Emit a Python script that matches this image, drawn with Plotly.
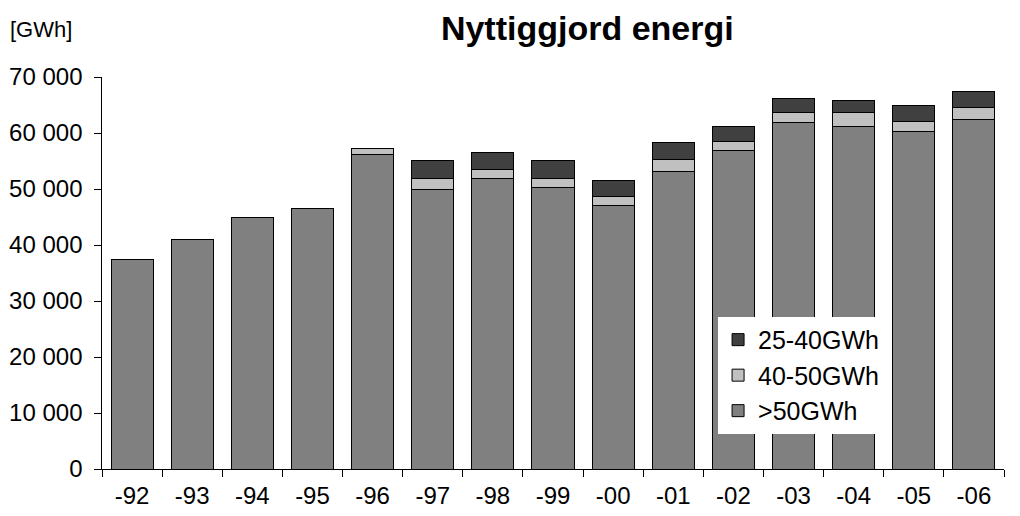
import plotly.graph_objects as go

years = ["-92", "-93", "-94", "-95", "-96", "-97", "-98", "-99", "-00",
         "-01", "-02", "-03", "-04", "-05", "-06"]

# GWh per storleksklass
over_50 = [37500, 40900, 45000, 46600, 56100, 50000, 51900, 50350, 47000,
           53200, 56850, 61900, 61250, 60350, 62500]
mid_40_50 = [None, None, None, None, 1200, 1800, 1550, 1550, 1750,
             2000, 1600, 1800, 2350, 1650, 2100]
low_25_40 = [None, None, None, None, None, 3250, 3050, 3150, 2750,
             3100, 2650, 2550, 2200, 2900, 2800]

FONT = "Liberation Sans, Arial, sans-serif"

fig = go.Figure()

# Staplar, underst först
for name, vals, color in [(">50GWh", over_50, "#808080"),
                          ("40-50GWh", mid_40_50, "#C0C0C0"),
                          ("25-40GWh", low_25_40, "#404040")]:
    fig.add_trace(go.Bar(
        x=years, y=vals, name=name,
        marker=dict(color=color, line=dict(color="black", width=1)),
    ))

# sidan har 8px marginal runt figuren -> 1004x500
fig.update_layout(
    barmode="stack",
    bargap=0.3,
    width=1004, height=500,
    margin=dict(l=94, r=8, t=69, b=39),
    plot_bgcolor="white", paper_bgcolor="white",
    separators=", ",
    font=dict(family=FONT, size=24, color="black"),
    title=dict(text="<b>Nyttiggjord energi</b>", x=0.577, xanchor="center",
               y=0.96, yanchor="middle", font=dict(size=34)),
    legend=dict(x=0.683, y=0.388, xanchor="left", yanchor="top",
                traceorder="reversed", bgcolor="white",
                font=dict(size=25), tracegroupgap=0),
)

fig.update_yaxes(range=[0, 70000], dtick=10000, tickformat=",d",
                 ticksuffix=" ", automargin=False,
                 showgrid=False, zeroline=False, showline=True,
                 linecolor="black", linewidth=1,
                 ticks="outside", ticklen=7, tickcolor="black")
fig.update_xaxes(showgrid=False, showline=True, linecolor="black", linewidth=1,
                 automargin=False,
                 ticks="outside", tickson="boundaries", ticklen=7,
                 tickcolor="black", ticklabelstandoff=5)

fig.add_annotation(text="[GWh]", xref="paper", yref="paper",
                   x=-0.104, y=1.12, xanchor="left", yanchor="middle",
                   showarrow=False, font=dict(size=22))

fig.write_html("out.html")
